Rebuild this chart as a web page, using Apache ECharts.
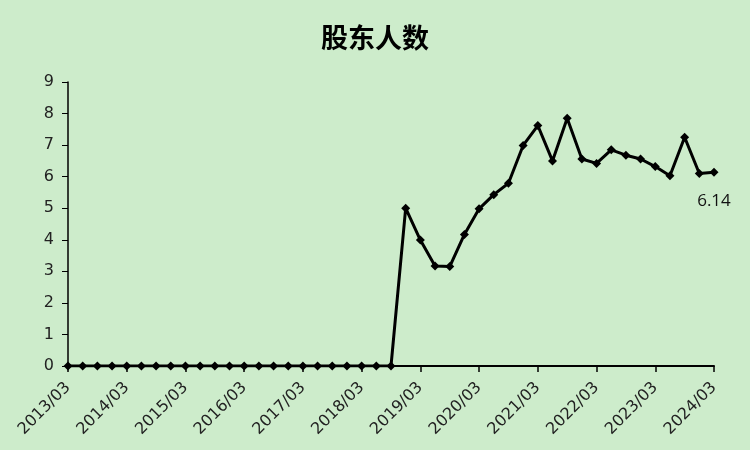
<!DOCTYPE html>
<html>
<head>
<meta charset="utf-8">
<script src="https://cdn.jsdelivr.net/npm/echarts@6/dist/echarts.min.js"></script>
<style>
html,body{margin:0;padding:0;background:#cdeccb;}
#c{width:750px;height:450px;}
</style>
</head>
<body>
<div id="c"></div>
<script>
var categories = [
  "2013/03","2013/06","2013/09","2013/12",
  "2014/03","2014/06","2014/09","2014/12",
  "2015/03","2015/06","2015/09","2015/12",
  "2016/03","2016/06","2016/09","2016/12",
  "2017/03","2017/06","2017/09","2017/12",
  "2018/03","2018/06","2018/09","2018/12",
  "2019/03","2019/06","2019/09","2019/12",
  "2020/03","2020/06","2020/09","2020/12",
  "2021/03","2021/06","2021/09","2021/12",
  "2022/03","2022/06","2022/09","2022/12",
  "2023/03","2023/06","2023/09","2023/12",
  "2024/03"
];
var holders = [
  0,0,0,0,
  0,0,0,0,
  0,0,0,0,
  0,0,0,0,
  0,0,0,0,
  0,0,0,5.00,
  3.99,3.17,3.15,4.17,
  4.98,5.43,5.79,6.99,
  7.62,6.50,7.85,6.56,
  6.42,6.85,6.68,6.56,
  6.32,6.03,7.25,6.10,
  6.14
];
var titleText = "股东人数";
var lastLabel = "6.14";

var chart = echarts.init(document.getElementById('c'));
var seriesData = holders.map(function(v, i){
  if (i === holders.length - 1) {
    return {value: v, label: {show: true, formatter: lastLabel}};
  }
  return v;
});
chart.setOption({
  backgroundColor: '#cdeccb',
  animation: false,
  title: {
    text: titleText, left: 'center', top: 19,
    textStyle: {fontFamily: 'Noto Sans CJK SC', fontSize: 27, fontWeight: 'bold', color: '#000'}
  },
  grid: {left: 68, right: 36, top: 82, bottom: 84, containLabel: false},
  xAxis: {
    type: 'category', data: categories, boundaryGap: false,
    axisLine: {lineStyle: {color: '#000', width: 2}},
    axisTick: {interval: 3, length: 6, lineStyle: {color: '#000', width: 1.5}},
    axisLabel: {interval: 3, rotate: 45, fontSize: 16, color: '#222', fontFamily: 'DejaVu Sans', margin: 19},
    splitLine: {show: false}
  },
  yAxis: {
    type: 'value', min: 0, max: 9, interval: 1,
    axisLine: {show: true, lineStyle: {color: '#000', width: 1.5}},
    axisTick: {show: true, length: 6, lineStyle: {color: '#000'}},
    axisLabel: {fontSize: 16, color: '#222', fontFamily: 'DejaVu Sans', margin: 14},
    splitLine: {show: false}
  },
  series: [{
    type: 'line', data: seriesData,
    symbol: 'diamond', symbolSize: 9,
    lineStyle: {color: '#000', width: 3},
    itemStyle: {color: '#000'},
    label: {show: false, position: 'bottom', distance: 16, fontSize: 17, color: '#111', fontFamily: 'Open Sans'}
  }]
});
</script>
</body>
</html>
